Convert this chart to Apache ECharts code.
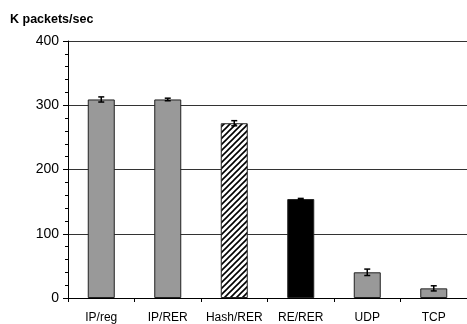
<!DOCTYPE html>
<html><head><meta charset="utf-8">
<script src="https://cdn.jsdelivr.net/npm/echarts@6/dist/echarts.min.js"></script>
<style>html,body{margin:0;padding:0;background:#fff}#c{width:467px;height:324px}</style>
</head><body><div id="c"></div>
<script>
var categories = ['IP/reg', 'IP/RER', 'Hash/RER', 'RE/RER', 'UDP', 'TCP'];
var values = [309, 309, 272, 154, 40, 15];
var errors = [4, 2, 4, 1, 5, 4];
var yTicks = [0, 100, 200, 300, 400];

var pc = document.createElement('canvas');
pc.width = 6; pc.height = 6;
var g = pc.getContext('2d');
g.fillStyle = '#fff'; g.fillRect(0, 0, 6, 6);
g.strokeStyle = '#000'; g.lineWidth = 1.6;
g.beginPath();
g.moveTo(-1, 7); g.lineTo(7, -1);
g.moveTo(-4, 4); g.lineTo(4, -4);
g.moveTo(2, 10); g.lineTo(10, 2);
g.stroke();
var hatch = {image: pc, repeat: 'repeat'};

var fills = ['#999999', '#999999', hatch, '#000000', '#999999', '#999999'];
var barData = values.map(function (v, i) {
  return {value: v, itemStyle: {color: fills[i]}};
});
var errData = values.map(function (v, i) { return [i, v - errors[i], v + errors[i]]; });

var chart = echarts.init(document.getElementById('c'));
chart.setOption({
  animation: false,
  title: {text: 'K packets/sec', left: 5, top: 8,
    textStyle: {fontFamily: 'Liberation Sans, Arial', fontSize: 12.5, fontWeight: 'bold', color: '#000'}},
  grid: {left: 68, top: 41, width: 404, height: 257},
  xAxis: {
    type: 'category', data: categories,
    axisLine: {lineStyle: {color: '#000', width: 1}},
    axisTick: {show: true, length: 4, interval: 0, alignWithLabel: false, lineStyle: {color: '#000'}},
    axisLabel: {interval: 0, fontFamily: 'Liberation Sans, Arial', fontSize: 12, color: '#000', margin: 14}
  },
  yAxis: {
    type: 'value', min: yTicks[0], max: yTicks[yTicks.length - 1], interval: 100,
    axisLine: {show: true, lineStyle: {color: '#000', width: 1}},
    axisTick: {show: true, length: 5, lineStyle: {color: '#000'}},
    minorTick: {show: true, splitNumber: 5, length: 3, lineStyle: {color: '#000'}},
    splitLine: {show: true, lineStyle: {color: '#333', width: 1}},
    axisLabel: {fontFamily: 'Liberation Sans, Arial', fontSize: 14, color: '#000', margin: 9}
  },
  series: [{
    type: 'bar', data: barData, barWidth: 27,
    itemStyle: {borderColor: '#222', borderWidth: 1}
  }, {
    type: 'custom', data: errData, z: 10,
    renderItem: function (params, api) {
      var x = api.value(0);
      var lo = api.coord([x, api.value(1)]);
      var hi = api.coord([x, api.value(2)]);
      var w = 3;
      var st = {stroke: '#000', lineWidth: 1.5};
      return {type: 'group', children: [
        {type: 'line', shape: {x1: lo[0], y1: lo[1], x2: hi[0], y2: hi[1]}, style: st},
        {type: 'line', shape: {x1: lo[0] - w, y1: lo[1], x2: lo[0] + w, y2: lo[1]}, style: st},
        {type: 'line', shape: {x1: hi[0] - w, y1: hi[1], x2: hi[0] + w, y2: hi[1]}, style: st}
      ]};
    }
  }]
});
</script></body></html>
